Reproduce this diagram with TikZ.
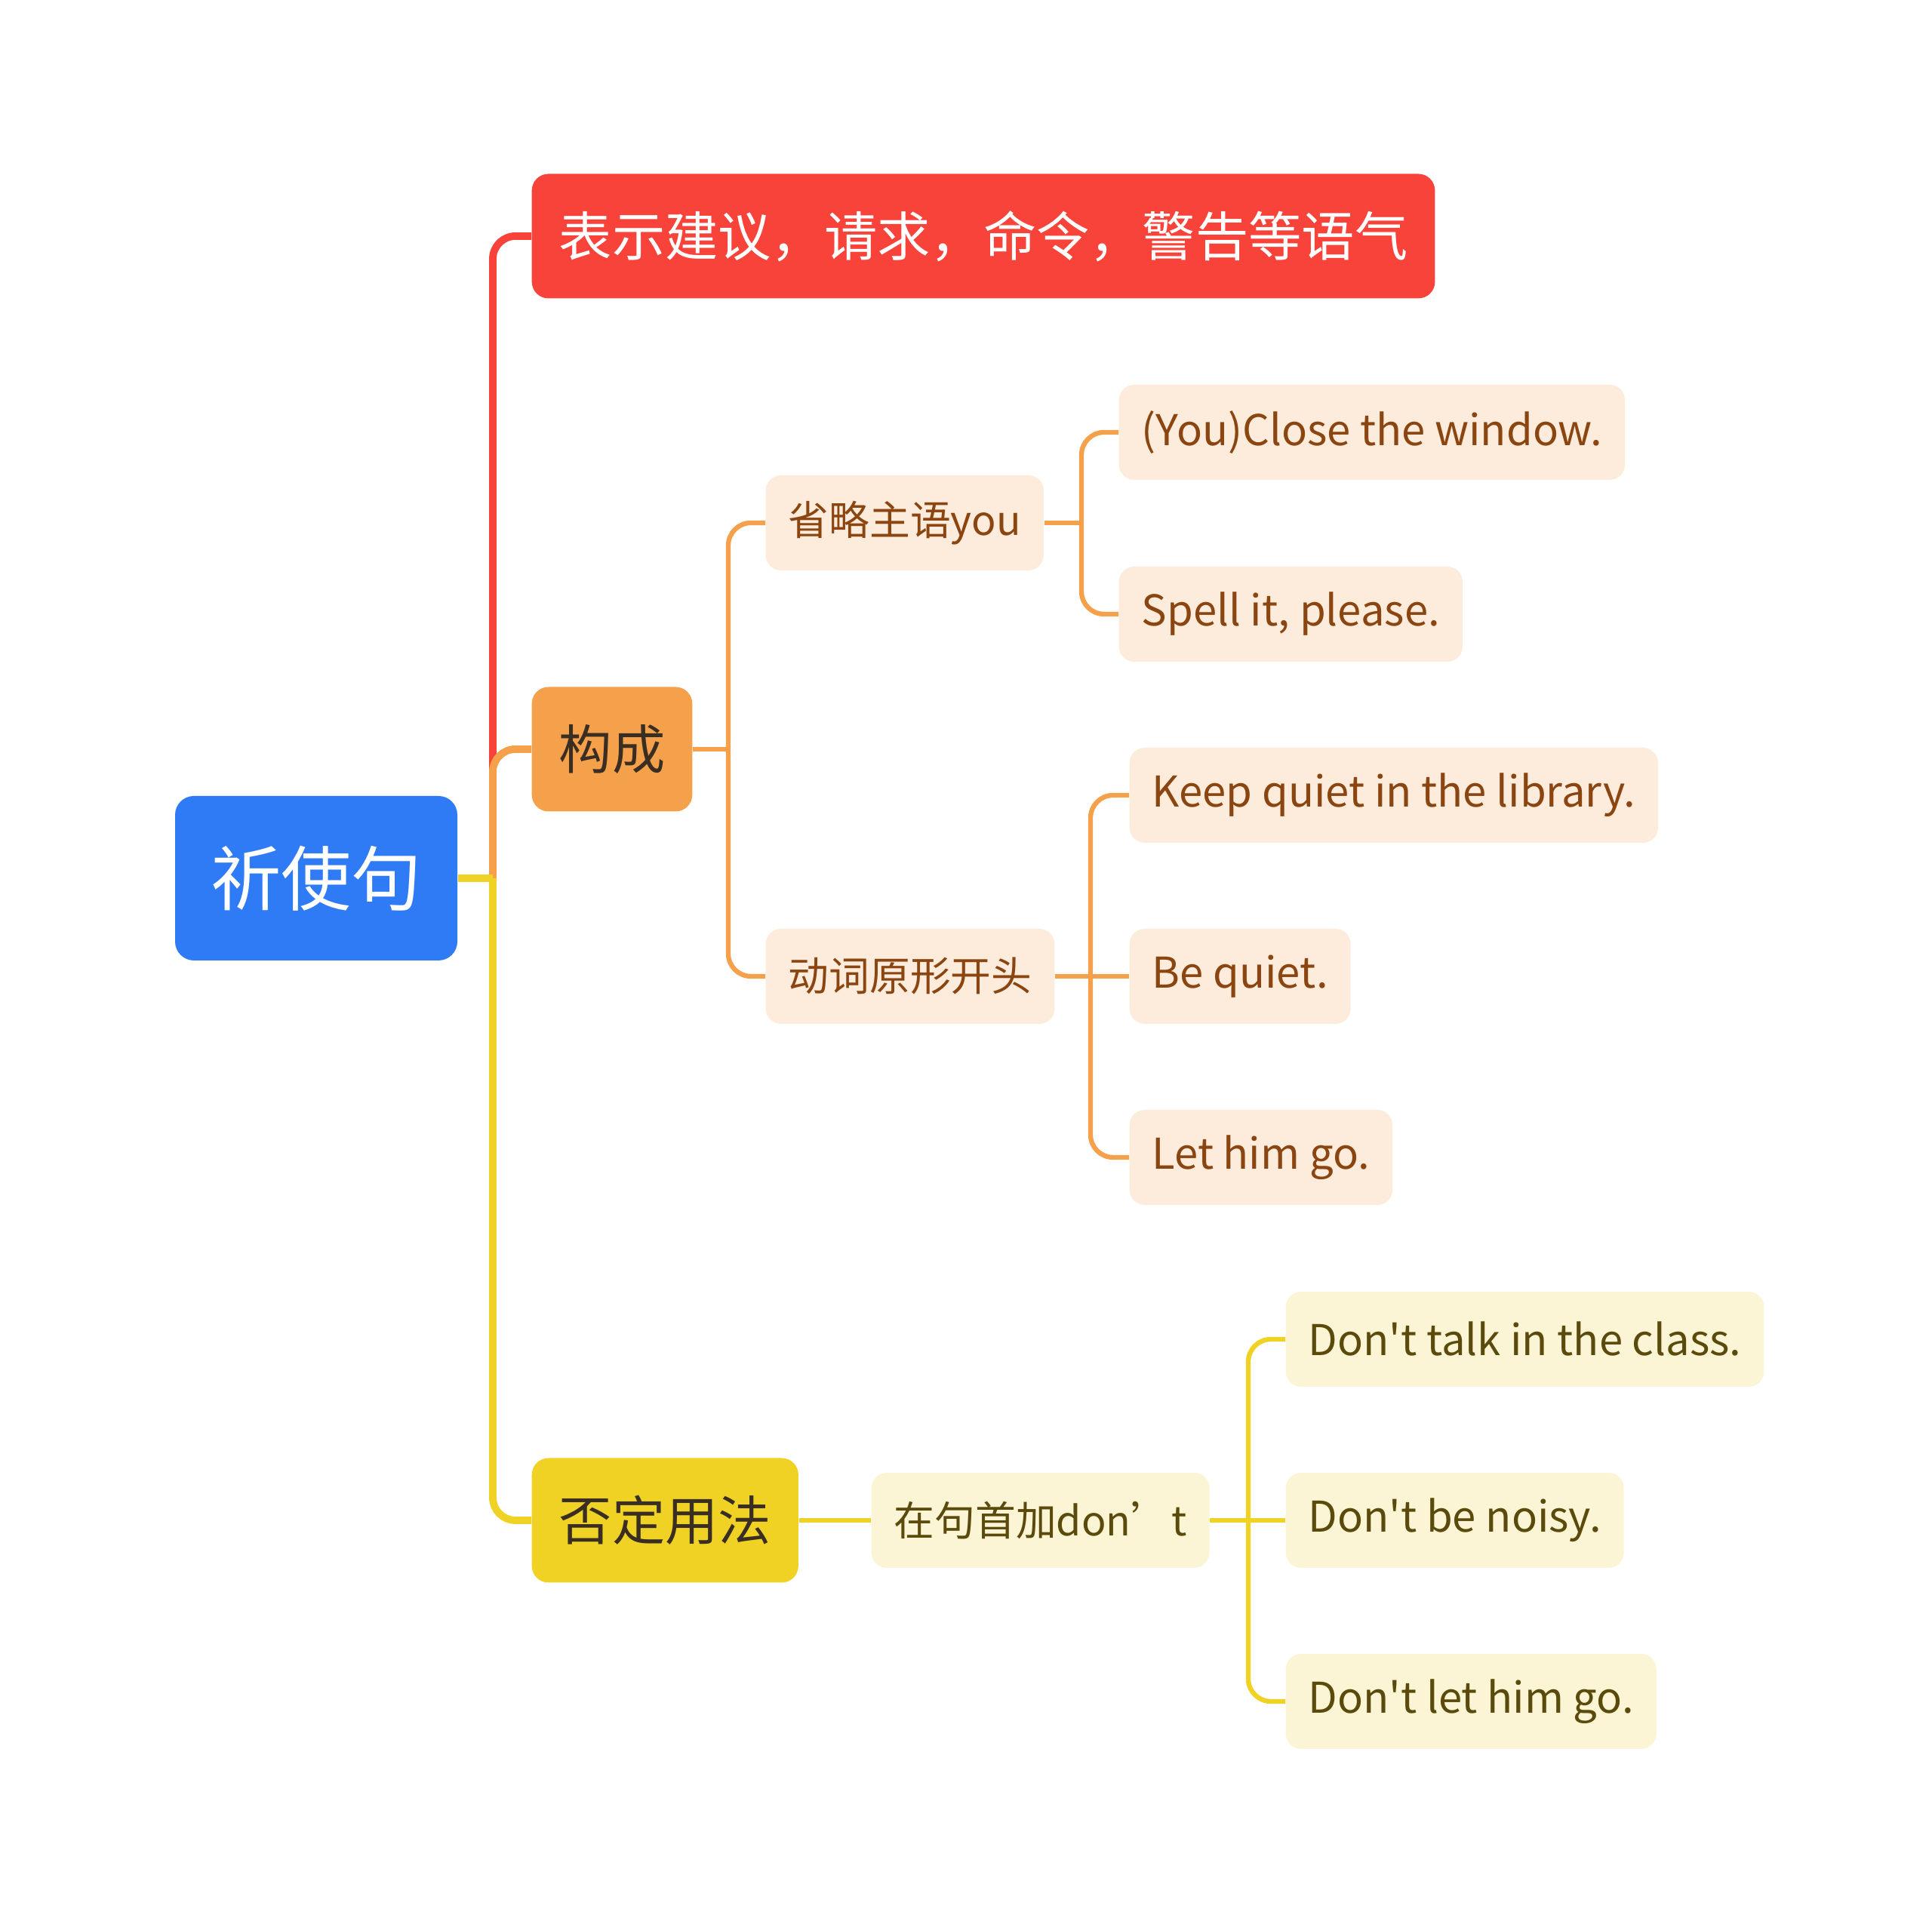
\documentclass[tikz,border=0pt]{standalone}
\usepackage{fontspec}
\setmainfont{Noto Sans CJK SC}
\newfontfamily\plainfont{Noto Sans CJK SC}
\usepackage{xcolor}
\usepackage{tikz}

\definecolor{rootblue}{HTML}{2F7BF6}
\definecolor{topred}{HTML}{F8433A}
\definecolor{midorange}{HTML}{F5A14C}
\definecolor{lowyellow}{HTML}{F0D224}
\definecolor{paleorange}{HTML}{FDEBDC}
\definecolor{paleyellow}{HTML}{FCF5D5}
\definecolor{brownink}{HTML}{8A4510}
\definecolor{oliveink}{HTML}{5A4A0C}
\definecolor{darkink}{HTML}{3A2E22}

\begin{document}
\begin{tikzpicture}[
  topic/.style={rounded corners=0.22cm,minimum height=1.65cm,inner xsep=0.36cm,anchor=west,font=\fontsize{20}{24}\selectfont},
  sub/.style={rounded corners=0.2cm,minimum height=1.26cm,inner xsep=0.3cm,anchor=west,font=\plainfont\fontsize{15.3}{18}\selectfont},
  leaf/.style={font=\plainfont\fontsize{16}{19}\selectfont},
  orangesub/.style={sub,fill=paleorange,text=brownink},
  yellowsub/.style={sub,fill=paleyellow,text=oliveink},
  trunk/.style={line width=2.8pt,rounded corners=0.3cm},
  twig/.style={line width=1.8pt,rounded corners=0.3cm}
]
\useasboundingbox (0,0) rectangle (25.6,25.5);

\node[fill=rootblue,text=white,rounded corners=0.25cm,minimum width=3.74cm,minimum height=2.18cm,font=\fontsize{26.5}{30}\selectfont] (root) at (4.19,13.86) {祈使句};

\node[topic,fill=topred,text=white] (tone) at (7.04,22.37) {表示建议，请求，命令，警告等语气};
\node[topic,fill=midorange,text=darkink] (form) at (7.04,15.57) {构成};
\node[topic,fill=lowyellow,text=darkink] (neg) at (7.04,5.35) {否定用法};

\node[orangesub] (omit) at (10.14,18.57) {省略主语you};
\node[orangesub] (verb) at (10.14,12.56) {动词原形开头};
\node[orangesub,leaf] (close) at (14.82,19.77) {(You)Close the window.};
\node[orangesub,leaf] (spell) at (14.82,17.36) {Spell it, please.};
\node[orangesub,leaf] (keep) at (14.96,14.96) {Keep quiet in the library.};
\node[orangesub,leaf] (bequiet) at (14.96,12.56) {Be quiet.};
\node[orangesub,leaf] (lethim) at (14.96,10.16) {Let him go.};

\node[yellowsub] (dont) at (11.54,5.35) {在句首加don’t};
\node[yellowsub,leaf] (talk) at (17.03,7.75) {Don't talk in the class.};
\node[yellowsub,leaf] (noisy) at (17.03,5.35) {Don't be noisy.};
\node[yellowsub,leaf] (letgo) at (17.03,2.95) {Don't let him go.};

\coordinate (jr) at (6.53,13.86);
\coordinate (jf) at (9.65,15.57);
\coordinate (jo) at (14.33,18.57);
\coordinate (jv) at (14.45,12.56);
\coordinate (jd) at (16.54,5.35);

\draw[trunk,topred] (jr) |- (tone.west);
\draw[trunk,midorange] (jr) |- (form.west);
\draw[trunk,lowyellow] (jr) |- (neg.west);
\draw[trunk,lowyellow] (root.east) -- (jr);

\draw[twig,midorange] (form.east) -- (jf);
\draw[twig,midorange] (jf) |- (omit.west);
\draw[twig,midorange] (jf) |- (verb.west);
\draw[twig,midorange] (omit.east) -- (jo);
\draw[twig,midorange] (jo) |- (close.west);
\draw[twig,midorange] (jo) |- (spell.west);
\draw[twig,midorange] (verb.east) -- (jv);
\draw[twig,midorange] (jv) |- (keep.west);
\draw[twig,midorange] (jv) -- (bequiet.west);
\draw[twig,midorange] (jv) |- (lethim.west);

\draw[twig,lowyellow] (neg.east) -- (dont.west);
\draw[twig,lowyellow] (dont.east) -- (jd);
\draw[twig,lowyellow] (jd) |- (talk.west);
\draw[twig,lowyellow] (jd) -- (noisy.west);
\draw[twig,lowyellow] (jd) |- (letgo.west);
\end{tikzpicture}
\end{document}
